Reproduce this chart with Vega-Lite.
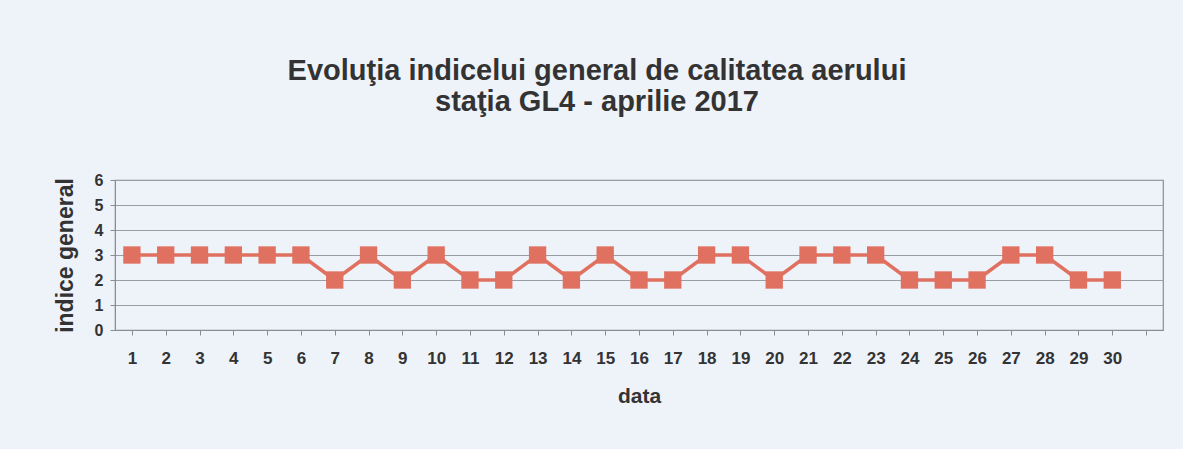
{
  "$schema": "https://vega.github.io/schema/vega-lite/v6.json",
  "autosize": "none",
  "width": 1048,
  "height": 150,
  "padding": {"left": 115, "top": 180, "right": 20, "bottom": 119},
  "background": "#eef2f9",
  "config": {
    "font": "Liberation Sans",
    "view": {"stroke": "#8a8d94", "strokeWidth": 1.2}
  },
  "title": {
    "text": ["Evoluţia indicelui general de calitatea aerului", "staţia GL4 - aprilie 2017"],
    "fontSize": 29,
    "fontWeight": "bold",
    "color": "#333333",
    "lineHeight": 31,
    "anchor": "middle",
    "frame": "group",
    "dx": -42,
    "offset": 55
  },
  "data": {
    "values": [
      {"zi": "1", "indice": 3}, {"zi": "2", "indice": 3}, {"zi": "3", "indice": 3},
      {"zi": "4", "indice": 3}, {"zi": "5", "indice": 3}, {"zi": "6", "indice": 3},
      {"zi": "7", "indice": 2}, {"zi": "8", "indice": 3}, {"zi": "9", "indice": 2},
      {"zi": "10", "indice": 3}, {"zi": "11", "indice": 2}, {"zi": "12", "indice": 2},
      {"zi": "13", "indice": 3}, {"zi": "14", "indice": 2}, {"zi": "15", "indice": 3},
      {"zi": "16", "indice": 2}, {"zi": "17", "indice": 2}, {"zi": "18", "indice": 3},
      {"zi": "19", "indice": 3}, {"zi": "20", "indice": 2}, {"zi": "21", "indice": 3},
      {"zi": "22", "indice": 3}, {"zi": "23", "indice": 3}, {"zi": "24", "indice": 2},
      {"zi": "25", "indice": 2}, {"zi": "26", "indice": 2}, {"zi": "27", "indice": 3},
      {"zi": "28", "indice": 3}, {"zi": "29", "indice": 2}, {"zi": "30", "indice": 2}
    ]
  },
  "encoding": {
    "x": {
      "field": "zi",
      "type": "ordinal",
      "scale": {
        "domain": ["1","2","3","4","5","6","7","8","9","10","11","12","13","14","15","16","17","18","19","20","21","22","23","24","25","26","27","28","29","30","31"],
        "paddingInner": 0,
        "paddingOuter": 0
      },
      "axis": {
        "title": "data",
        "titleFontSize": 21,
        "titleFontWeight": "bold",
        "titleColor": "#333333",
        "titlePadding": 19,
        "labelAngle": 0,
        "labelFontSize": 17,
        "labelFontWeight": "bold",
        "labelColor": "#333333",
        "labelPadding": 15,
        "labelExpr": "datum.value == '31' ? '' : datum.label",
        "bandPosition": 0,
        "tickSize": 5,
        "tickColor": "#8a8d94",
        "domainColor": "#8a8d94",
        "grid": false
      }
    },
    "y": {
      "field": "indice",
      "type": "quantitative",
      "scale": {"domain": [0, 6], "nice": false},
      "axis": {
        "title": "indice general",
        "titleFontSize": 23,
        "titleFontWeight": "bold",
        "titleColor": "#333333",
        "titlePadding": 17,
        "values": [0, 1, 2, 3, 4, 5, 6],
        "format": "d",
        "labelFontSize": 16,
        "labelFontWeight": "bold",
        "labelColor": "#333333",
        "labelPadding": 7,
        "tickSize": 5,
        "tickColor": "#8a8d94",
        "domainColor": "#8a8d94",
        "gridColor": "#9a9da4",
        "gridWidth": 1.2
      }
    }
  },
  "layer": [
    {
      "mark": {"type": "line", "color": "#e0705f", "strokeWidth": 3.5}
    },
    {
      "mark": {"type": "point", "shape": "square", "filled": true, "size": 300, "color": "#e0705f", "opacity": 1}
    }
  ]
}
